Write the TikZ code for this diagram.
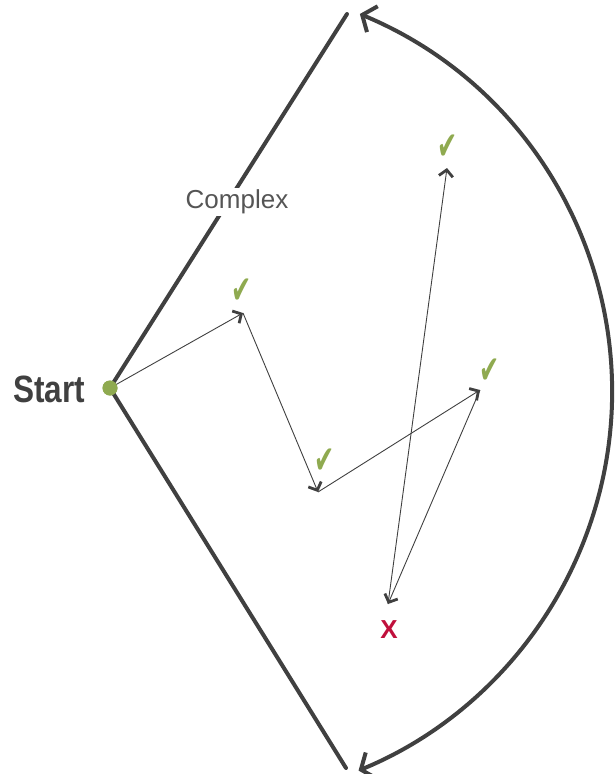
\documentclass[tikz,border=0pt]{standalone}
\usepackage{fontspec}
\setmainfont{Liberation Sans}
\newfontfamily\startfont[FakeStretch=0.83]{Liberation Sans}
\newfontfamily\symfont{DejaVu Sans}
\usetikzlibrary{arrows.meta,calc}
\definecolor{dk}{HTML}{404040}
\definecolor{gr}{HTML}{8FAA50}
\definecolor{rd}{HTML}{C0103C}
\definecolor{tx}{HTML}{555555}
\newcommand{\mychk}{\scalebox{0.8}[1.3]{✔}}
\begin{document}
\begin{tikzpicture}[x=1pt,y=1pt,
  thick line/.style={draw=dk,line width=4pt,line cap=round},
  thin arrow/.style={draw=dk,line width=0.9pt,-{Straight Barb[length=6.5pt,width=14pt,line width=2.8pt]}},
  chk/.style={text=gr,font=\symfont\fontsize{30}{30}\selectfont,inner sep=0pt},
]
\useasboundingbox (0,0) rectangle (614,-774);
% points
\coordinate (top) at (347,-14);
\coordinate (bot) at (346,-768);
\coordinate (p1) at (243,-313);
\coordinate (p2) at (318,-492);
\coordinate (p3) at (480,-390);
\coordinate (p4) at (388,-604);
\coordinate (p5) at (447,-168);
\coordinate (arcc) at (202.5,-392);
% start dot
\node[circle,fill=gr,minimum size=15pt,inner sep=0pt] (s) at (110,-388) {};
\draw[thick line] (s.center) -- (top);
\draw[thick line] (s.center) -- (bot);
\node[fill=white,inner sep=1.5pt,text=tx,font=\fontsize{26}{26}\selectfont] (cx) at (237,-202) {Complex};
\node[text=dk,font=\startfont\bfseries\fontsize{38}{38}\selectfont,inner sep=0pt] (st) at (49,-389) {Start};
% big arc
\draw[draw=dk,line width=4pt,{Straight Barb[length=11pt,width=28pt]}-{Straight Barb[length=11pt,width=28pt]}]
  ($(arcc)+(67.4:409.5)$) arc[start angle=67.4,end angle=-67.6,radius=409.5];
% thin arrows
\draw[thin arrow] (s.center) -- (p1);
\draw[thin arrow] (p1) -- (p2);
\draw[thin arrow] (p2) -- (p3);
\draw[thin arrow] (p3) -- (p4);
\draw[thin arrow] (p4) -- (p5);
\node[circle,fill=gr,minimum size=15pt,inner sep=0pt] (s2) at (s) {};
% checks
\node[chk] (c1) at (242,-291) {\mychk};
\node[chk] (c2) at (448,-147) {\mychk};
\node[chk] (c3) at (325,-461) {\mychk};
\node[chk] (c4) at (490,-371) {\mychk};
\node[text=rd,font=\bfseries\fontsize{26}{26}\selectfont,inner sep=0pt] (x) at (389,-630) {X};
\end{tikzpicture}
\end{document}
